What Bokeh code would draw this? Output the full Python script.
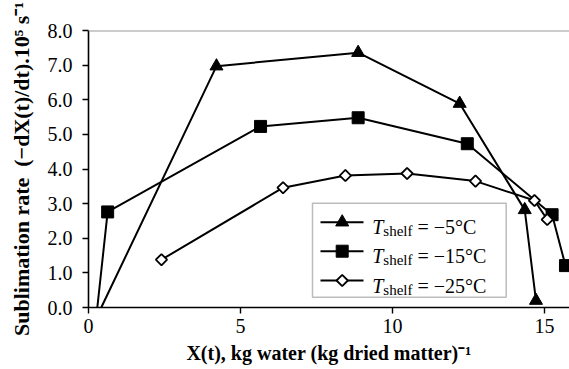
import math
from bokeh.plotting import figure
from bokeh.models import Label, Span, FixedTicker, NumeralTickFormatter, Range1d, BoxAnnotation
from bokeh.embed import file_html
from bokeh.resources import INLINE

# ---- data ----
t5_x = [0.42, 4.21, 8.87, 12.21, 14.35, 14.72]
t5_y = [0.00, 6.97, 7.36, 5.89, 2.82, 0.20]
t15_x = [0.29, 0.63, 5.66, 8.87, 12.46, 15.25, 15.69]
t15_y = [0.00, 2.76, 5.23, 5.48, 4.73, 2.68, 1.21]
t25_x = [2.40, 6.40, 8.45, 10.48, 12.73, 14.67, 15.09]
t25_y = [1.38, 3.46, 3.81, 3.87, 3.65, 3.09, 2.54]
x_ticks = [0, 5, 10, 15]
y_ticks = [0, 1, 2, 3, 4, 5, 6, 7, 8]
legend_labels = ["\u22125\u00b0C", "\u221215\u00b0C", "\u221225\u00b0C"]
x_title = "X(t), kg water (kg dried matter)\u207b\u00b9"
y_title = "Sublimation rate\u00a0 (\u2212dX(t)/dt).10\u2075 s\u207b\u00b9"

FONT = "Liberation Serif"
W, H = 569, 369
FL, FR, FT, FB = 88, 569, 30, 307  # frame edges in px
X0, X1, Y0, Y1 = 0.0, (FR - FL) / 30.4, 0.0, 8.0

def dx(px):
    return X0 + (px - FL) / (FR - FL) * (X1 - X0)

def dy(py):
    return Y0 + (FB - py) / (FB - FT) * (Y1 - Y0)

p = figure(width=W, height=H, output_backend="svg", toolbar_location=None,
           x_range=Range1d(X0, X1), y_range=Range1d(Y0, Y1),
           min_border_left=FL, min_border_right=W - FR, min_border_top=FT,
           min_border_bottom=H - FB)
p.outline_line_color = None
p.xgrid.visible = False
p.ygrid.visible = False
p.background_fill_color = "white"
p.border_fill_color = "white"

for ax in (p.xaxis[0], p.yaxis[0]):
    ax.axis_line_width = 1.6
    ax.axis_line_color = "black"
    ax.major_tick_line_color = "black"
    ax.major_tick_line_width = 1.4
    ax.major_tick_out = 6
    ax.major_tick_in = 0
    ax.minor_tick_line_color = None
    ax.major_label_text_font = FONT
    ax.major_label_text_font_size = "20px"
    ax.major_label_text_color = "black"
    ax.axis_label_text_font = FONT
    ax.axis_label_text_font_style = "bold"
    ax.axis_label_text_color = "black"
p.xaxis.ticker = FixedTicker(ticks=x_ticks)
p.yaxis.ticker = FixedTicker(ticks=y_ticks)
p.yaxis.formatter = NumeralTickFormatter(format="0.0")
p.xaxis.major_label_standoff = 5
p.yaxis.major_label_standoff = 10
p.xaxis.axis_label = x_title
p.xaxis.axis_label_text_font_size = "20px"
p.xaxis.axis_label_standoff = 6
p.yaxis.axis_label = y_title
p.yaxis.axis_label_text_font_size = "22px"
p.yaxis.axis_label_standoff = 11

p.add_layout(Span(location=8, dimension="width", line_color="#9a9a9a", line_width=2))

# series
LW = 2
p.line(t5_x, t5_y, line_color="black", line_width=LW)
p.scatter(t5_x[1:], t5_y[1:], marker="triangle", size=13, fill_color="black", line_color="black")
p.line(t15_x, t15_y, line_color="black", line_width=LW)
p.scatter(t15_x[1:], t15_y[1:], marker="square", size=12, fill_color="black", line_color="black")
p.line(t25_x, t25_y, line_color="black", line_width=LW)
p.scatter(t25_x, t25_y, marker="square", angle=math.pi / 4, size=8, fill_color="white",
          line_color="black", line_width=1.8)

# ---- rich text helper (Times-metric widths, per 1000 em) ----
REG = {" ": 250, "s": 389, "h": 500, "e": 444, "l": 278, "f": 333, "=": 564,
       "\u2212": 564, "1": 500, "2": 500, "5": 500, "\u00b0": 400, "C": 667}
IT = {"T": 556}

def tw(s, table, size):
    return sum(table[c] for c in s) * size / 1000.0

def rich(x, y, pieces):
    off = 0.0
    for text, table, size, style, shift in pieces:
        lead = len(text) - len(text.lstrip(" "))
        start = off + tw(" " * lead, table, size)
        s = text.strip(" ")
        if s:
            p.add_layout(Label(x=x, y=y, x_offset=start, y_offset=shift, text=s,
                               text_font=FONT, text_font_size=f"{size}px",
                               text_font_style=style, text_align="left",
                               text_baseline="alphabetic", text_color="black"))
        off += tw(text, table, size)

# ---- legend (drawn by hand for the subscripts) ----
p.add_layout(BoxAnnotation(left=dx(312), right=dx(505.7), top=dy(202.7), bottom=dy(296.7),
                           fill_color="white", fill_alpha=1.0, line_color="#222222",
                           line_width=1.5, level="underlay"))
rows = [221.7, 250.7, 280.0]
markers = [("triangle", 13, "black", 0.0), ("square", 12, "black", 0.0),
           ("square", 8, "white", math.pi / 4)]
LS = 20
for ry, (mk, ms, mf, ma), lab in zip(rows, markers, legend_labels):
    p.line([dx(320), dx(363)], [dy(ry), dy(ry)], line_color="black", line_width=LW)
    p.scatter([dx(341.7)], [dy(ry)], marker=mk, size=ms, angle=ma, fill_color=mf,
              line_color="black", line_width=1.8 if mf == "white" else 1)
    rich(dx(371.7), dy(ry + 5), [
        ("T", IT, LS, "italic", 0),
        ("shelf", REG, 15, "normal", -4),
        (" = " + lab, REG, LS, "normal", 0),
    ])

open("out.html", "w").write(file_html(p, INLINE))
